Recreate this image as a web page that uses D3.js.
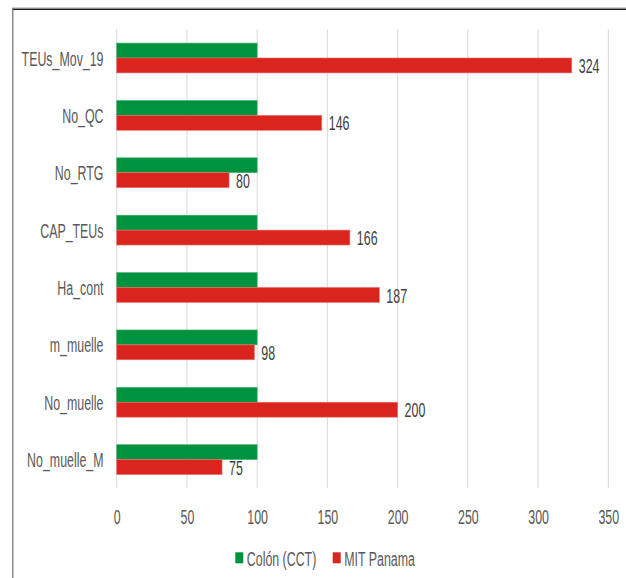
<!DOCTYPE html>
<html>
<head>
<meta charset="utf-8">
<script src="https://cdn.jsdelivr.net/npm/d3@7/dist/d3.min.js"></script>
<style>
  html, body { margin: 0; padding: 0; background: #fff; }
  svg { display: block; }
  text { font-family: "Liberation Sans", Arial, sans-serif; }
</style>
</head>
<body>
<script>
// Indicators compared between the two terminals (Colón CCT = base 100)
const categories = ["TEUs_Mov_19", "No_QC", "No_RTG", "CAP_TEUs", "Ha_cont", "m_muelle", "No_muelle", "No_muelle_M"];
const seriesNames = ["Colón (CCT)", "MIT Panama"];
const colonValues = [100, 100, 100, 100, 100, 100, 100, 100];
const mitValues = [324, 146, 80, 166, 187, 98, 200, 75];
const xTicks = [0, 50, 100, 150, 200, 250, 300, 350];

const colors = { "Colón (CCT)": "#00923f", "MIT Panama": "#da251f" };
const W = 626, H = 578;
const sx = 0.59; // horizontal squeeze giving the condensed look of the type

const svg = d3.select("body").append("svg").attr("width", W).attr("height", H);

// chart frame (top and left edges)
svg.append("line").attr("x1", 12).attr("x2", W).attr("y1", 7.5).attr("y2", 7.5)
  .attr("stroke", "#d0d0d0").attr("stroke-width", 1);
svg.append("line").attr("x1", 12).attr("x2", W).attr("y1", 9.3).attr("y2", 9.3)
  .attr("stroke", "#1a1a1a").attr("stroke-width", 1.4);
svg.append("line").attr("x1", 12.8).attr("x2", 12.8).attr("y1", 9).attr("y2", H)
  .attr("stroke", "#6e6e6e").attr("stroke-width", 1.2);

const x = d3.scaleLinear().domain([0, 350]).range([116.7, 608.3]);
const y = d3.scaleBand().domain(categories).range([29.3, 488.3])
  .paddingInner(0.48).paddingOuter(0.24);
const ySub = d3.scaleBand().domain(seriesNames).range([0, y.bandwidth()]);

// vertical gridlines
svg.append("g").selectAll("line").data(xTicks).join("line")
  .attr("x1", d => x(d)).attr("x2", d => x(d))
  .attr("y1", 29.3).attr("y2", 488.3)
  .attr("stroke", "#d9d9d9").attr("stroke-width", 1);

// x axis tick labels
const xAxis = d3.axisBottom(x).tickValues(xTicks).tickSize(0).tickPadding(0);
const gx = svg.append("g").attr("transform", "translate(0,516)").call(xAxis);
gx.select(".domain").remove();
gx.selectAll(".tick text")
  .attr("y", 0).attr("dy", "0.36em")
  .attr("font-size", 21).attr("fill", "#595959")
  .attr("font-family", null)
  .attr("transform", `scale(${sx},1)`);

// category labels
svg.append("g").selectAll("text").data(categories).join("text")
  .attr("transform", d => `translate(103.5,${y(d) + y.bandwidth() / 2}) scale(${sx},1)`)
  .attr("text-anchor", "end").attr("dy", "0.36em")
  .attr("font-size", 21).attr("fill", "#595959")
  .text(d => d);

// bars
const rows = categories.map((c, i) => ({ cat: c, values: [
  { name: seriesNames[0], v: colonValues[i] },
  { name: seriesNames[1], v: mitValues[i] }
]}));

const groups = svg.append("g").selectAll("g").data(rows).join("g")
  .attr("transform", d => `translate(0,${y(d.cat)})`);

groups.selectAll("rect").data(d => d.values).join("rect")
  .attr("x", x(0))
  .attr("y", d => ySub(d.name))
  .attr("width", d => x(d.v) - x(0))
  .attr("height", ySub.bandwidth())
  .attr("fill", d => colors[d.name])
  .attr("stroke", d => d.name === "MIT Panama" ? "#e8716c" : "#4cb274")
  .attr("stroke-width", 0.6);

// value labels on the MIT Panama bars
groups.append("text")
  .attr("transform", d => `translate(${x(d.values[1].v) + 7},${ySub(seriesNames[1]) + ySub.bandwidth() / 2}) scale(${sx},1)`)
  .attr("dy", "0.36em")
  .attr("font-size", 21).attr("fill", "#404040")
  .text(d => d.values[1].v);

// legend
const legendItems = [
  { name: seriesNames[0], x: 235.3 },
  { name: seriesNames[1], x: 332.7 }
];
const lg = svg.append("g").selectAll("g").data(legendItems).join("g")
  .attr("transform", d => `translate(${d.x},0)`);
lg.append("rect").attr("x", 0).attr("y", 552.3).attr("width", 8).attr("height", 11)
  .attr("fill", d => colors[d.name]);
lg.append("text")
  .attr("transform", `translate(11.5,558) scale(${sx},1)`)
  .attr("dy", "0.36em").attr("font-size", 21).attr("fill", "#595959")
  .text(d => d.name);
</script>
</body>
</html>
